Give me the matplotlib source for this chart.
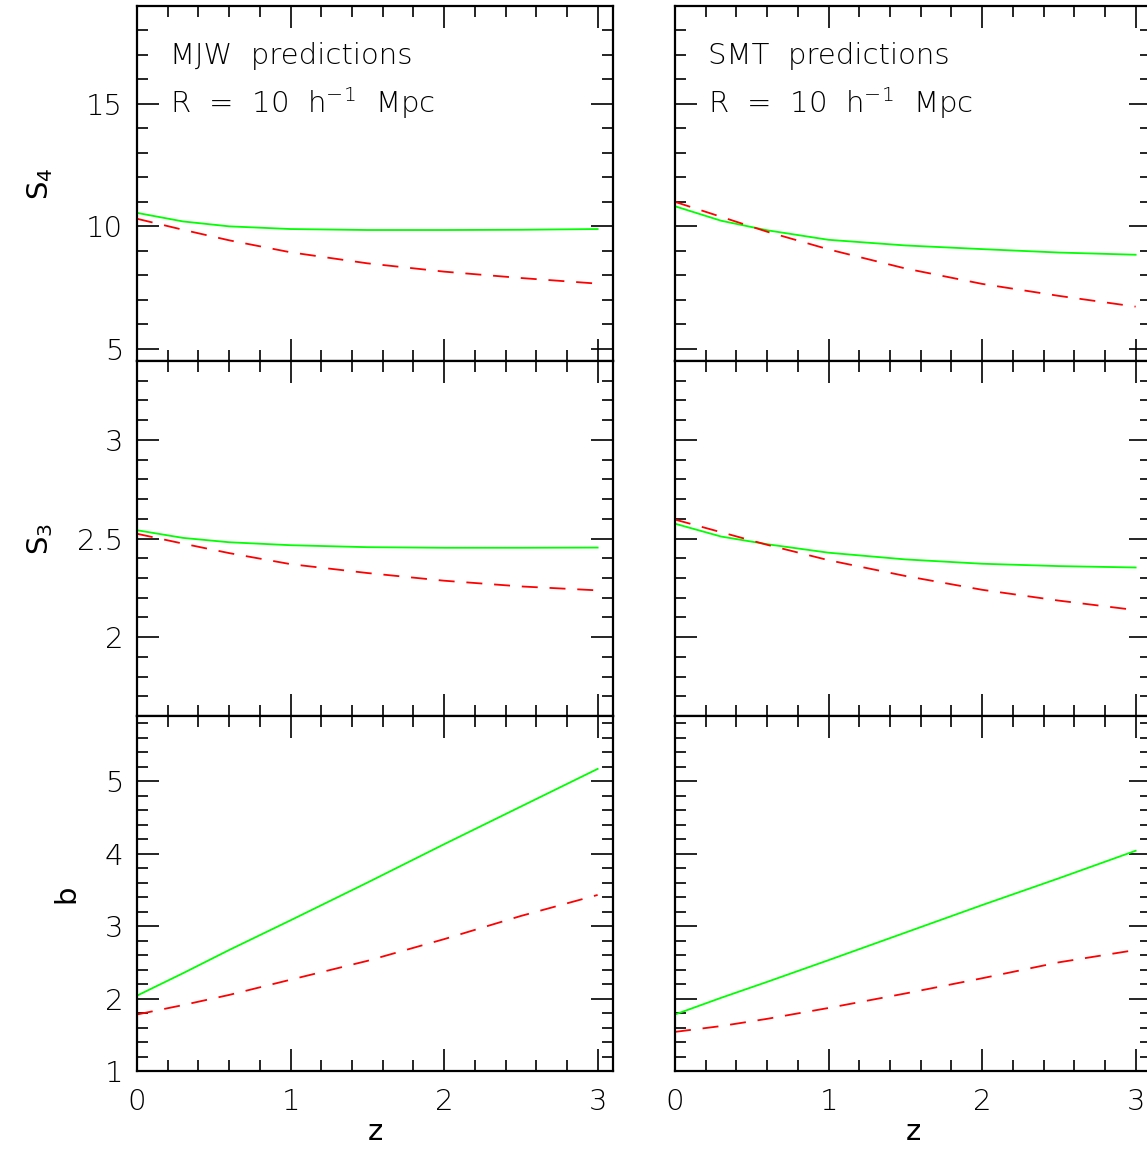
import matplotlib
matplotlib.use('Agg')
import matplotlib.pyplot as plt
from matplotlib.ticker import MultipleLocator, FormatStrFormatter

# Redshift grid the curves were read at
z = [0.0, 0.3, 0.6, 1.0, 1.5, 2.0, 2.5, 3.0]

# MJW predictions (green solid / red dashed)
mjw_s4_green = [10.55, 10.20, 10.00, 9.89, 9.85, 9.85, 9.86, 9.89]
mjw_s4_red = [10.31, 9.86, 9.43, 8.94, 8.49, 8.15, 7.89, 7.66]
mjw_s3_green = [2.542, 2.503, 2.481, 2.466, 2.456, 2.453, 2.453, 2.454]
mjw_s3_red = [2.524, 2.474, 2.426, 2.370, 2.325, 2.286, 2.257, 2.237]
mjw_b_green = [2.04, 2.35, 2.67, 3.08, 3.60, 4.13, 4.65, 5.17]
mjw_b_red = [1.78, 1.91, 2.05, 2.26, 2.52, 2.82, 3.14, 3.43]

# SMT predictions
smt_s4_green = [10.82, 10.23, 9.84, 9.45, 9.22, 9.07, 8.93, 8.84]
smt_s4_red = [11.00, 10.39, 9.78, 9.06, 8.28, 7.65, 7.16, 6.72]
smt_s3_green = [2.575, 2.510, 2.471, 2.428, 2.394, 2.372, 2.360, 2.353]
smt_s3_red = [2.596, 2.532, 2.468, 2.390, 2.310, 2.240, 2.185, 2.137]
smt_b_green = [1.78, 2.01, 2.23, 2.53, 2.91, 3.29, 3.66, 4.04]
smt_b_red = [1.54, 1.62, 1.72, 1.87, 2.07, 2.28, 2.50, 2.67]

titles = ['MJW  predictions', 'SMT  predictions']
ylabels = [r'$\mathregular{S_4}$', r'$\mathregular{S_3}$', 'b']
ylims = [(4.5, 19.0), (1.6, 3.4), (1.0, 5.9)]
ymajor = [5, 0.5, 1]
yminor = [1, 0.1, 0.2]
ylabel_x = [-0.204, -0.204, -0.149]

plt.rcParams['font.family'] = ['DejaVu Sans']
plt.rcParams['font.weight'] = 'light'
plt.rcParams['font.size'] = 21
plt.rcParams['lines.scale_dashes'] = False

fig = plt.figure(figsize=(11.47, 11.52), dpi=100)

left_x = [137 / 1147, 675 / 1147]
width = 476 / 1147
height = 355 / 1152
bottoms = [1 - 361 / 1152, 1 - 716 / 1152, 1 - 1071 / 1152]

data = [
    [(mjw_s4_green, mjw_s4_red), (mjw_s3_green, mjw_s3_red), (mjw_b_green, mjw_b_red)],
    [(smt_s4_green, smt_s4_red), (smt_s3_green, smt_s3_red), (smt_b_green, smt_b_red)],
]

for col in range(2):
    for row in range(3):
        ax = fig.add_axes([left_x[col], bottoms[row], width, height])
        green, red = data[col][row]
        ax.plot(z, green, color='#00ff00', lw=1.3)
        ax.plot(z, red, color='#ff0000', lw=1.3, dashes=(11.5, 8.5))

        ax.set_xlim(0, 3.1)
        ax.set_ylim(*ylims[row])
        ax.xaxis.set_major_locator(MultipleLocator(1))
        ax.xaxis.set_minor_locator(MultipleLocator(0.2))
        ax.yaxis.set_major_locator(MultipleLocator(ymajor[row]))
        ax.yaxis.set_minor_locator(MultipleLocator(yminor[row]))
        ax.yaxis.set_major_formatter(FormatStrFormatter('%g'))
        ax.tick_params(which='both', direction='in', top=True, right=True,
                       color='black', width=1.2)
        ax.tick_params(which='major', length=16, pad=10)
        ax.tick_params(which='minor', length=8)
        for sp in ax.spines.values():
            sp.set_linewidth(1.6)

        if row < 2:
            ax.tick_params(labelbottom=False)
        else:
            ax.tick_params(axis='x', pad=12)
            ax.set_xlabel('z', labelpad=2)
        if col == 1:
            ax.tick_params(labelleft=False)
        else:
            ax.set_ylabel(ylabels[row], va='center')
            ax.yaxis.set_label_coords(ylabel_x[row], 0.5)

        if row == 0:
            ax.text(0.069, 0.837, titles[col], transform=ax.transAxes,
                    va='baseline')
            ax.text(0.069, 0.699, r'R  =  10  h$^{\mathregular{-1}}$  Mpc',
                    transform=ax.transAxes, va='baseline')

fig.savefig('out.png', dpi=100)
